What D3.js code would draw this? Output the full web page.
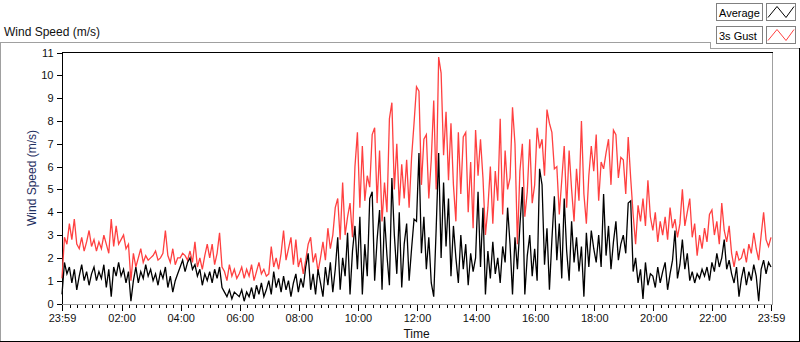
<!DOCTYPE html>
<html>
<head>
<meta charset="utf-8">
<script src="https://d3js.org/d3.v7.min.js"></script>
<style>
  body { margin: 0; background: #fff; }
  svg { display: block; font-family: "Liberation Sans", Arial, sans-serif; }
  .axis text { font-size: 11px; fill: #111; }
  .axis line { stroke: #000; shape-rendering: crispEdges; }
</style>
</head>
<body>
<svg id="chart" width="800" height="342"></svg>
<script>
// one sample every 5 minutes, one row per hour, starting 23:59
var startTime = new Date(2020, 0, 1, 23, 59);
var stepMinutes = 5;

var averageSpeed = [
  0.4, 1.8, 1.3, 1.6, 0.9, 1.5, 0.6, 1.2, 1.7, 1.0, 1.4, 0.8,
  1.3, 1.6, 1.0, 1.4, 1.1, 1.7, 0.7, 1.5, 0.3, 1.6, 1.2, 1.8,
  1.2, 1.5, 0.9, 1.4, 0.1, 1.0, 1.6, 0.9, 1.4, 1.1, 1.7, 1.2,
  1.5, 1.0, 1.3, 0.8, 1.4, 1.1, 1.6, 0.7, 1.2, 0.5, 1.0, 1.3,
  1.6, 1.9, 1.4, 1.8, 2.0, 1.5, 1.7, 1.2, 1.5, 0.8, 1.3, 1.0,
  1.4, 0.9, 1.5, 1.1, 1.6, 0.7, 0.5, 0.3, 0.6, 0.2, 0.5, 0.4,
  0.3, 0.6, 0.1, 0.5, 0.3, 0.7, 0.2, 0.8, 0.4, 0.9, 0.3, 0.6,
  1.0, 0.4, 1.4, 0.7, 1.1, 0.5, 1.2, 0.6, 1.0, 0.3, 0.9, 1.3,
  0.5, 1.1, 0.7, 1.6, 2.2, 0.6, 1.3, 0.4, 1.5, 0.9, 0.3, 1.6,
  0.8, 1.8, 0.5, 1.5, 2.9, 0.6, 2.0, 1.2, 3.1, 0.4, 2.3, 3.4,
  1.5, 3.8, 0.4, 2.6, 1.2, 4.6, 4.9, 1.0, 2.8, 4.1, 0.6, 3.8,
  2.1, 0.8, 5.5, 3.0, 1.3, 4.0, 0.7, 2.6, 3.5, 1.0, 2.4, 3.7,
  3.6, 6.6, 2.2, 3.8, 1.5, 2.9, 0.9, 0.3, 3.3, 6.6, 2.0, 5.3,
  2.5, 4.6, 1.2, 3.4, 2.0, 0.9, 3.0, 1.5, 2.6, 0.8, 2.2, 1.4,
  2.0, 4.9, 1.6, 4.2, 0.4, 2.3, 1.1, 2.7, 1.3, 2.0, 0.9, 2.5,
  1.8, 4.2, 2.6, 0.4, 2.9, 1.5, 3.4, 5.1, 0.4, 2.1, 3.0, 1.2,
  2.4, 1.0, 5.9, 5.2, 1.7, 3.3, 0.6, 2.8, 4.7, 1.9, 3.5, 1.1,
  4.6, 2.3, 1.0, 3.6, 1.8, 2.9, 1.4, 2.5, 0.3, 3.1, 1.6, 3.2,
  2.4, 1.8, 3.0, 1.6, 4.8, 2.1, 3.4, 1.5, 2.7, 3.6, 1.9, 2.6,
  3.0, 2.2, 4.4, 4.5, 1.4, 2.0, 0.9, 1.5, 0.2, 1.8, 0.8, 1.3,
  1.2, 0.7, 1.6, 0.9, 1.4, 1.8, 0.6, 1.3, 1.9, 3.2, 1.1, 1.7,
  2.8, 1.5, 2.2, 1.0, 1.4, 0.9, 1.3, 1.1, 1.5, 1.2, 1.6, 1.0,
  1.8, 1.4, 2.2, 1.6, 2.0, 2.8, 1.5, 1.9, 1.3, 0.9, 1.6, 0.3,
  1.1, 1.6, 0.8, 1.4, 1.0, 1.7, 1.2, 0.1, 1.5, 1.9, 1.3, 1.8,
  1.6
];

var gustSpeed = [
  1.1, 2.9, 2.6, 3.5, 2.8, 3.7, 2.6, 2.4, 2.9, 2.3, 2.7, 3.2,
  2.5, 2.8, 2.3, 2.7, 2.4, 3.0, 2.6, 2.2, 3.7, 2.5, 3.4, 2.6,
  2.8, 3.0, 2.4, 2.6, 1.0, 2.2, 1.6, 2.0, 2.4, 1.8, 2.1, 1.9,
  2.0, 2.1, 2.3, 1.9, 2.0, 2.2, 3.2, 2.1, 1.8, 2.4, 1.7, 2.0,
  2.0, 2.2, 2.1, 1.9, 2.3, 1.8, 2.7, 1.6, 2.0, 1.5, 2.1, 2.6,
  2.0, 2.6, 1.7, 2.2, 3.1, 1.6, 1.4, 1.0, 1.7, 1.2, 1.5, 1.1,
  1.3, 1.6, 1.1, 1.5, 1.2, 1.7, 1.0, 1.4, 1.8, 1.3, 1.5, 1.2,
  1.3, 2.5, 1.6, 2.0, 1.5, 2.2, 3.2, 1.9, 2.4, 2.9, 1.7, 2.8,
  1.6, 2.0, 1.3, 1.9, 2.6, 2.9, 1.8, 2.2, 1.4, 2.0, 2.7, 1.9,
  3.3, 2.4, 3.0, 4.2, 4.6, 2.8, 5.3, 3.0, 3.8, 4.4, 2.9, 6.0,
  7.5, 4.2, 6.9, 4.5, 5.6, 5.1, 7.4, 7.7, 4.4, 6.7, 3.6, 5.3,
  4.0, 8.1, 8.8, 5.0, 7.0, 4.3, 6.1, 4.6, 6.3, 4.2, 6.4, 7.9,
  9.5, 9.3, 5.2, 7.2, 7.4, 4.6, 6.3, 8.9, 5.0, 10.8, 10.1, 6.5,
  8.4, 5.4, 7.9, 5.2, 3.6, 7.5, 4.8, 7.3, 7.5, 4.0, 6.2, 3.3,
  7.6, 5.6, 7.2, 5.5, 3.0, 4.2, 6.0, 3.5, 5.8, 4.5, 8.1, 3.9,
  6.7, 5.0, 5.5, 8.6, 7.0, 2.6, 5.8, 7.0, 3.8, 4.9, 7.2, 4.4,
  5.2, 7.7, 6.8, 7.2, 5.6, 8.5, 7.9, 7.5, 5.9, 6.0, 3.9, 5.4,
  6.9, 4.2, 6.7, 5.0, 3.6, 5.9, 4.5, 8.0, 4.8, 3.5, 5.6, 6.9,
  5.8, 7.4, 4.5, 6.2, 5.9, 6.6, 7.2, 5.2, 7.6, 7.4, 5.5, 6.4,
  6.3, 4.8, 7.3, 5.5, 3.9, 2.6, 4.3, 3.6, 4.6, 3.4, 5.4, 3.8,
  3.2, 4.0, 2.7, 3.6, 3.0, 3.8, 2.8, 4.2, 3.3, 3.7, 2.9, 3.5,
  5.0, 3.4, 4.0, 4.6, 2.9, 3.5, 2.1, 3.0, 2.4, 3.3, 2.7, 3.9,
  4.1, 3.0, 3.6, 2.6, 4.4, 3.2, 2.7, 3.4, 2.2, 1.6, 2.3, 1.9,
  2.0, 2.4, 1.8, 2.6, 2.2, 3.1, 2.4, 1.9, 3.0, 4.0, 2.8, 2.5,
  2.9
];

var speedTicks = [0, 1, 2, 3, 4, 5, 6, 7, 8, 9, 10, 11];
var timeTickHours = [2, 4, 6, 8, 10, 12, 14, 16, 18, 20, 22];
var seriesNames = ['Average', '3s Gust'];
var seriesColors = ['#000000', '#ff4040'];

;(function (d3) {
  'use strict';

  var svg = d3.select('#chart');
  var left = 62, right = 771, top = 52, bottom = 304;
  var endTime = d3.timeMinute.offset(startTime, 24 * 60);

  var x = d3.scaleTime().domain([startTime, endTime]).range([left, right]);
  var y = d3.scaleLinear().domain([0, 11]).range([bottom - 0.5, top + 0.5]);

  var timeAt = function (i) { return d3.timeMinute.offset(startTime, i * stepMinutes); };

  // outer frame of the control
  var frame = svg.append('g').attr('shape-rendering', 'crispEdges').attr('fill', 'none');
  frame.append('path').attr('d', 'M0.5,341 V42.5 H710.5 V48.5 H799').attr('stroke', '#a0a0a0');
  frame.append('path').attr('d', 'M799.5,48 V341.5 H0').attr('stroke', '#000');

  svg.append('text')
    .attr('x', 4).attr('y', 36)
    .style('font-size', '12px').attr('fill', '#111')
    .text('Wind Speed (m/s)');

  // plot area border: dark top/left, grey right/bottom
  frame.append('path').attr('d', 'M' + left + ',' + (bottom + 0.5) + ' H' + (right + 1.5) + ' V' + top)
    .attr('stroke', '#a0a0a0');
  frame.append('path').attr('d', 'M' + (left + 0.5) + ',' + bottom + ' V' + (top + 0.5) + ' H' + (right + 1.5))
    .attr('stroke', '#000');

  var line = d3.line()
    .x(function (d, i) { return x(timeAt(i)); })
    .y(function (d) { return y(d); });

  // gust first so the average trace sits on top
  var plot = svg.append('g');
  [gustSpeed, averageSpeed].forEach(function (series, k) {
    plot.append('path')
      .datum(series)
      .attr('fill', 'none')
      .attr('stroke', seriesColors[1 - k])
      .attr('stroke-width', 1.3)
      .attr('stroke-linejoin', 'miter')
      .attr('d', line);
  });

  // y axis
  var yAxis = d3.axisLeft(y).tickValues(speedTicks).tickSize(5).tickSizeOuter(0).tickPadding(3);
  var gy = svg.append('g').attr('class', 'axis').attr('transform', 'translate(' + (left - 0.5) + ',0)').call(yAxis);
  gy.select('.domain').remove();

  // x axis: major ticks with labels, minor every 15 minutes
  var majorTimes = [startTime].concat(timeTickHours.map(function (h) {
    return new Date(2020, 0, 2, h, 0);
  })).concat([endTime]);
  var minorTimes = d3.timeMinute.every(15).range(d3.timeMinute.offset(startTime, 1), endTime);

  var gxMinor = svg.append('g').attr('class', 'axis').attr('transform', 'translate(0,' + (bottom + 1) + ')')
    .call(d3.axisBottom(x).tickValues(minorTimes).tickSize(3).tickFormat(''));
  gxMinor.select('.domain').remove();

  var gx = svg.append('g').attr('class', 'axis').attr('transform', 'translate(0,' + (bottom + 1) + ')')
    .call(d3.axisBottom(x).tickValues(majorTimes).tickSize(6).tickPadding(3)
      .tickFormat(d3.timeFormat('%H:%M')));
  gx.select('.domain').remove();

  svg.append('text')
    .attr('transform', 'translate(36,' + ((top + bottom) / 2) + ') rotate(-90)')
    .attr('text-anchor', 'middle')
    .style('font-size', '12px').attr('fill', '#1f2f5f')
    .text('Wind Speed (m/s)');

  svg.append('text')
    .attr('x', (left + right) / 2).attr('y', 338)
    .attr('text-anchor', 'middle')
    .style('font-size', '12px').attr('fill', '#111')
    .text('Time');

  // legend: name box plus line swatch
  var legend = svg.append('g').attr('shape-rendering', 'crispEdges');
  seriesNames.forEach(function (name, i) {
    var oy = 3.5 + i * 23;
    legend.append('rect').attr('x', 716.5).attr('y', oy).attr('width', 46).attr('height', 17)
      .attr('fill', '#fff').attr('stroke', '#808080');
    legend.append('text').attr('x', 719).attr('y', oy + 13)
      .style('font-size', '11px').attr('fill', '#000').text(name);
    legend.append('rect').attr('x', 766.5).attr('y', oy).attr('width', 29).attr('height', 17)
      .attr('fill', '#fff').attr('stroke', '#808080');
    legend.append('path')
      .attr('d', 'M768,' + (oy + 14) + ' L777,' + (oy + 3) + ' L786,' + (oy + 14) + ' L794,' + (oy + 3))
      .attr('fill', 'none').attr('stroke', seriesColors[i]).attr('shape-rendering', 'auto');
  });
})(d3);
</script>
</body>
</html>
